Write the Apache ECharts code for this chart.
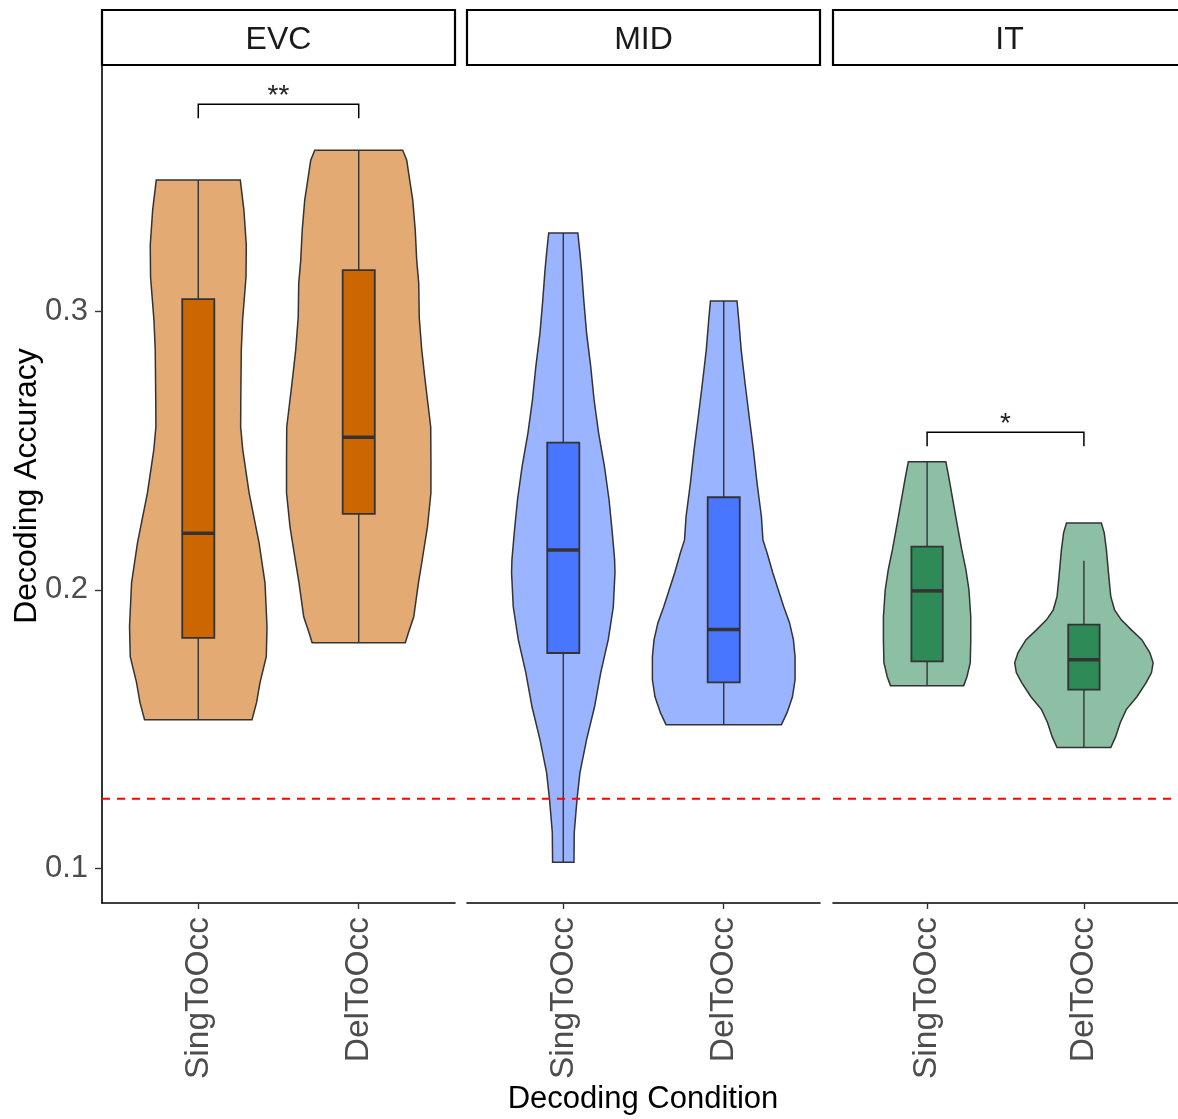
<!DOCTYPE html>
<html>
<head>
<meta charset="utf-8">
<script src="https://cdn.jsdelivr.net/npm/echarts@6/dist/echarts.min.js"></script>
<style>
  html, body { margin: 0; padding: 0; background: #ffffff; }
  #chart { width: 1178px; height: 1119px; }
</style>
</head>
<body>
<div id="chart"></div>
<script>
// ---- data ----
const regions = ['EVC', 'MID', 'IT'];
const conditions = ['SingToOcc', 'DelToOcc'];
const yTicks = [0.1, 0.2, 0.3];
const chanceLevel = 0.125;

// violin outlines, top to bottom: [decoding accuracy, relative density (1 = widest)]
const evcSingToOcc = [
  [0.3470, 0.582], [0.3362, 0.632], [0.3237, 0.665], [0.3122, 0.661], [0.2968, 0.614],
  [0.2860, 0.596], [0.2681, 0.589], [0.2584, 0.587], [0.2502, 0.616], [0.2348, 0.704],
  [0.2168, 0.842], [0.2025, 0.924], [0.1867, 0.952], [0.1760, 0.942], [0.1667, 0.855],
  [0.1595, 0.807], [0.1534, 0.744]
];
const evcDelToOcc = [
  [0.3577, 0.609], [0.3541, 0.665], [0.3470, 0.706], [0.3398, 0.748], [0.3290, 0.783],
  [0.3183, 0.803], [0.3100, 0.831], [0.2978, 0.838], [0.2860, 0.873], [0.2742, 0.924],
  [0.2584, 0.997], [0.2466, 1.000], [0.2348, 1.000], [0.2226, 0.952], [0.2097, 0.873],
  [0.2025, 0.827], [0.1903, 0.762], [0.1846, 0.688], [0.1810, 0.645]
];
const midSingToOcc = [
  [0.3280, 0.202], [0.3208, 0.231], [0.3147, 0.253], [0.3039, 0.284], [0.2921, 0.323],
  [0.2799, 0.381], [0.2681, 0.427], [0.2563, 0.489], [0.2441, 0.571], [0.2323, 0.634],
  [0.2204, 0.679], [0.2108, 0.711], [0.2061, 0.716], [0.1939, 0.693], [0.1821, 0.623],
  [0.1703, 0.519], [0.1581, 0.434], [0.1462, 0.323], [0.1344, 0.231], [0.1247, 0.190],
  [0.1129, 0.152], [0.1022, 0.148]
];
const midDelToOcc = [
  [0.3036, 0.184], [0.2968, 0.208], [0.2860, 0.242], [0.2742, 0.295], [0.2620, 0.353],
  [0.2502, 0.411], [0.2384, 0.461], [0.2262, 0.522], [0.2179, 0.543], [0.2133, 0.600],
  [0.2061, 0.679], [0.1939, 0.831], [0.1882, 0.911], [0.1821, 0.965], [0.1760, 0.988],
  [0.1677, 0.988], [0.1616, 0.952], [0.1559, 0.877], [0.1516, 0.799]
];
const itSingToOcc = [
  [0.2459, 0.266], [0.2405, 0.307], [0.2333, 0.357], [0.2240, 0.422], [0.2143, 0.492],
  [0.2072, 0.550], [0.2000, 0.593], [0.1903, 0.619], [0.1821, 0.619], [0.1738, 0.612],
  [0.1688, 0.565], [0.1656, 0.519]
];
const itDelToOcc = [
  [0.2240, 0.247], [0.2204, 0.288], [0.2143, 0.319], [0.2047, 0.353], [0.1975, 0.381],
  [0.1928, 0.434], [0.1892, 0.530], [0.1857, 0.669], [0.1821, 0.820], [0.1774, 0.935],
  [0.1738, 0.981], [0.1703, 0.958], [0.1667, 0.882], [0.1616, 0.751], [0.1570, 0.600],
  [0.1523, 0.515], [0.1473, 0.450], [0.1434, 0.381]
];

// box stats: [lower whisker, Q1, median, Q3, upper whisker]
const boxEVC = [[0.1534, 0.1827, 0.2203, 0.3043, 0.3470], [0.1810, 0.2272, 0.2547, 0.3147, 0.3577]];
const boxMID = [[0.1022, 0.1773, 0.2143, 0.2528, 0.3280], [0.1516, 0.1668, 0.1857, 0.2332, 0.3036]];
const boxIT  = [[0.1656, 0.1743, 0.1996, 0.2155, 0.2459], [0.1434, 0.1642, 0.1749, 0.1875, 0.2104]];

// significance between the two conditions in each region
const sigLabels  = ['**', '', '*'];
const sigHeights = [0.3742, null, 0.2565];
const sigTip = 0.005;

// ---- styling / layout ----
const violins = [[evcSingToOcc, evcDelToOcc], [midSingToOcc, midDelToOcc], [itSingToOcc, itDelToOcc]];
const boxes = [boxEVC, boxMID, boxIT];
const violinFill = ['rgba(204,102,0,0.55)', 'rgba(72,118,255,0.55)', 'rgba(46,139,87,0.55)'];
const boxFill = ['#CC6600', '#4876FF', '#2E8B57'];
const FONT = '"Liberation Sans", Arial, sans-serif';
const X_MIN = 0.4, X_MAX = 2.6;      // discrete scale with 0.6 padding each side
const Y_MIN = 0.0876, Y_MAX = 0.3883;
const VIOLIN_HALF = 0.45, BOX_HALF = 0.1;
const panelLeft = [102, 467, 833], panelTop = 65, panelW = 353, panelH = 838;
const OUTLINE = '#333333';

function renderViolin(r, j, api) {
  const prof = violins[r][j], st = boxes[r][j], cx = j + 1;
  const pts = prof.map(([y, d]) => api.coord([cx + d * VIOLIN_HALF, y]))
    .concat(prof.slice().reverse().map(([y, d]) => api.coord([cx - d * VIOLIN_HALF, y])));
  const b0 = api.coord([cx - BOX_HALF, st[3]]), b1 = api.coord([cx + BOX_HALF, st[1]]);
  const wTop = api.coord([cx, st[4]]), wBot = api.coord([cx, st[0]]);
  const m0 = api.coord([cx - BOX_HALF, st[2]]), m1 = api.coord([cx + BOX_HALF, st[2]]);
  return {
    type: 'group',
    children: [
      { type: 'polygon', shape: { points: pts }, style: { fill: violinFill[r], stroke: OUTLINE, lineWidth: 1.5 } },
      { type: 'line', shape: { x1: wTop[0], y1: wTop[1], x2: wBot[0], y2: wBot[1] }, style: { stroke: OUTLINE, lineWidth: 1.4 } },
      { type: 'rect', shape: { x: b0[0], y: b0[1], width: b1[0] - b0[0], height: b1[1] - b0[1] },
        style: { fill: boxFill[r], stroke: OUTLINE, lineWidth: 1.8 } },
      { type: 'line', shape: { x1: m0[0], y1: m0[1], x2: m1[0], y2: m1[1] }, style: { stroke: OUTLINE, lineWidth: 3.5 } }
    ]
  };
}

function renderBracket(r, api) {
  const h = sigHeights[r];
  const a = api.coord([1, h - sigTip]), b = api.coord([1, h]);
  const c = api.coord([2, h]), d = api.coord([2, h - sigTip]);
  const t = api.coord([1.5, h]);
  return {
    type: 'group',
    children: [
      { type: 'polyline', shape: { points: [a, b, c, d] }, style: { stroke: '#000', lineWidth: 1.5, fill: null } },
      { type: 'text', x: t[0], y: t[1] - 8,
        style: { text: sigLabels[r], fontSize: 28, fontFamily: FONT, fill: '#222', align: 'center', verticalAlign: 'middle' } }
    ]
  };
}

const grids = regions.map((r, i) => ({ left: panelLeft[i], top: panelTop, width: panelW, height: panelH }));

const xAxes = regions.map((r, i) => ({
  type: 'value', gridIndex: i, min: X_MIN, max: X_MAX,
  splitLine: { show: false },
  axisLine: { show: true, onZero: false, lineStyle: { color: '#000', width: 1.6 } },
  axisTick: { show: true, customValues: [1, 2], length: 6, lineStyle: { color: OUTLINE, width: 1.4 } },
  axisLabel: { show: true, customValues: [1, 2], formatter: v => conditions[Math.round(v) - 1],
    rotate: 90, margin: 14, fontSize: 33.5, color: '#4D4D4D', fontFamily: FONT }
}));

const yAxes = regions.map((r, i) => ({
  type: 'value', gridIndex: i, min: Y_MIN, max: Y_MAX, show: i === 0,
  splitLine: { show: false },
  axisLine: { show: true, onZero: false, lineStyle: { color: '#000', width: 1.6 } },
  axisTick: { show: true, customValues: yTicks, length: 7, lineStyle: { color: OUTLINE, width: 1.4 } },
  axisLabel: { show: true, customValues: yTicks, formatter: v => v.toFixed(1),
    margin: 14, fontSize: 31, color: '#4D4D4D', fontFamily: FONT }
}));

const series = [];
regions.forEach((r, i) => {
  series.push({
    type: 'custom', xAxisIndex: i, yAxisIndex: i, z: 2, clip: false, silent: true,
    data: conditions.map((c, j) => [j + 1, boxes[i][j][2]]),
    encode: { x: 0, y: 1 },
    renderItem: (params, api) => renderViolin(i, params.dataIndex, api)
  });
  series.push({
    type: 'line', xAxisIndex: i, yAxisIndex: i, z: 3, silent: true,
    symbol: 'none', showSymbol: false,
    data: [[X_MIN, chanceLevel], [X_MAX, chanceLevel]],
    lineStyle: { color: '#FF0000', width: 1.8, type: [8, 7] }
  });
  if (sigLabels[i]) {
    series.push({
      type: 'custom', xAxisIndex: i, yAxisIndex: i, z: 4, clip: false, silent: true,
      data: [[1.5, sigHeights[i]]],
      encode: { x: 0, y: 1 },
      renderItem: (params, api) => renderBracket(i, api)
    });
  }
});

const graphic = [];
regions.forEach((r, i) => {
  graphic.push({ type: 'rect', z: 10, shape: { x: panelLeft[i], y: 10, width: panelW, height: 55 },
    style: { fill: '#ffffff', stroke: '#000', lineWidth: 2.2 } });
  graphic.push({ type: 'text', z: 11, x: panelLeft[i] + panelW / 2, y: 40,
    style: { text: r, fontSize: 32, fontFamily: FONT, fill: '#1A1A1A', align: 'center', verticalAlign: 'middle' } });
});
graphic.push({ type: 'text', x: 27, y: 486, rotation: Math.PI / 2,
  style: { text: 'Decoding Accuracy', fontSize: 32, fontFamily: FONT, fill: '#000', align: 'center', verticalAlign: 'middle' } });
graphic.push({ type: 'text', x: 643, y: 1099,
  style: { text: 'Decoding Condition', fontSize: 31, fontFamily: FONT, fill: '#000', align: 'center', verticalAlign: 'middle' } });

const chart = echarts.init(document.getElementById('chart'), null, { renderer: 'canvas' });
chart.setOption({
  animation: false,
  backgroundColor: '#ffffff',
  grid: grids,
  xAxis: xAxes,
  yAxis: yAxes,
  series: series,
  graphic: graphic
});
</script>
</body>
</html>
